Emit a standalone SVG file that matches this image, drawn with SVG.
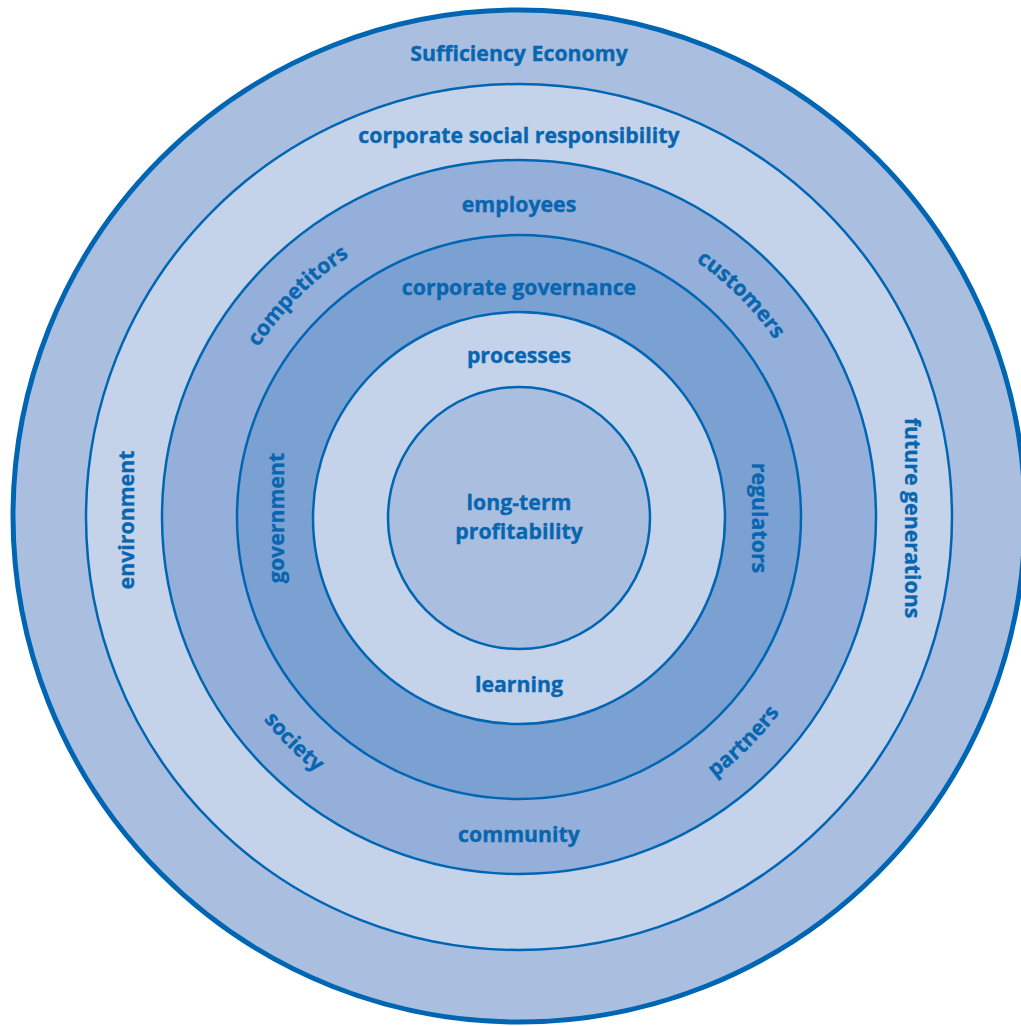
<svg xmlns="http://www.w3.org/2000/svg" width="1021" height="1026" viewBox="0 0 1021 1026">
  <style>
    .ring { stroke: #0066b3; stroke-width: 2.5; }
    .lbl { font-family: "Open Sans", "Noto Sans", "Liberation Sans", sans-serif; font-weight: 700; font-size: 21.3px; fill: #0866b0; stroke: #0866b0; stroke-width: 0.35; text-anchor: middle; }
  </style>
  <defs>
    <!-- arcs for the labels set along the stakeholder ring -->
    <path id="arcUL" d="M 208 517 A 311 311 0 0 1 519 206"/>
    <path id="arcUR" d="M 519 206 A 311 311 0 0 1 830 517"/>
    <path id="arcLL" d="M 193 517 A 326 326 0 0 0 519 843"/>
    <path id="arcLR" d="M 519 843 A 326 326 0 0 0 845 517"/>
  </defs>
  <rect width="1021" height="1026" fill="#ffffff"/>

  <g id="sufficiency-economy">
    <circle cx="519" cy="516" r="506" fill="#aabfe0" stroke="#0066b3" stroke-width="5"/>
    <text class="lbl" x="519" y="61">Sufficiency Economy</text>
  </g>
  <g id="csr">
    <circle class="ring" cx="519" cy="517" r="433" fill="#c4d3ea"/>
    <text class="lbl" x="519" y="143">corporate social responsibility</text>
    <text class="lbl" transform="translate(134 520) rotate(-90)">environment</text>
    <text class="lbl" transform="translate(905 518) rotate(90)">future generations</text>
  </g>
  <g id="stakeholders">
    <circle class="ring" cx="519" cy="517" r="357" fill="#94afd9"/>
    <text class="lbl" x="519" y="212">employees</text>
    <text class="lbl" x="519" y="842">community</text>
    <text class="lbl"><textPath href="#arcUL" startOffset="50%">competitors</textPath></text>
    <text class="lbl"><textPath href="#arcUR" startOffset="50%">customers</textPath></text>
    <text class="lbl"><textPath href="#arcLL" startOffset="50%">society</textPath></text>
    <text class="lbl"><textPath href="#arcLR" startOffset="50%">partners</textPath></text>
  </g>
  <g id="corporate-governance">
    <circle class="ring" cx="519" cy="517" r="282" fill="#7ba1d3"/>
    <text class="lbl" x="519" y="295">corporate governance</text>
    <text class="lbl" transform="translate(284 518) rotate(-90)">government</text>
    <text class="lbl" transform="translate(752 518) rotate(90)">regulators</text>
  </g>
  <g id="processes-learning">
    <circle class="ring" cx="519" cy="518" r="206" fill="#c4d3ea"/>
    <text class="lbl" x="519" y="363">processes</text>
    <text class="lbl" x="519" y="692">learning</text>
  </g>
  <g id="long-term-profitability">
    <circle class="ring" cx="519" cy="518" r="131" fill="#aabfe0"/>
    <text class="lbl" x="519" y="510">long-term</text>
    <text class="lbl" x="519" y="539">profitability</text>
  </g>
</svg>
